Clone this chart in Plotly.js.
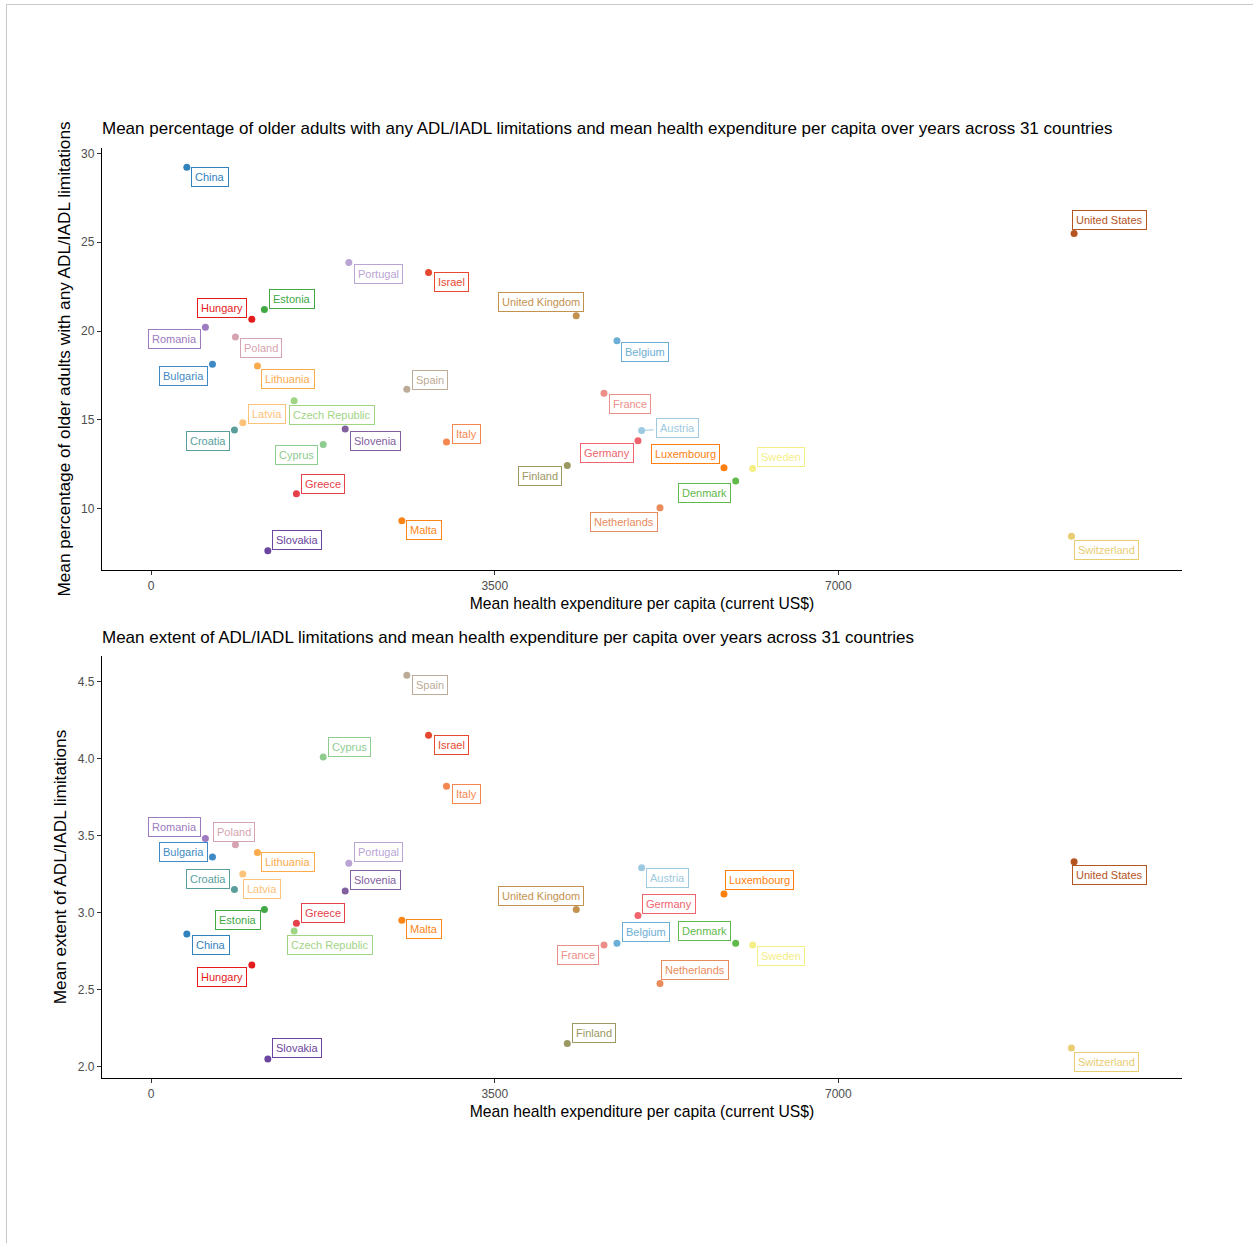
<!DOCTYPE html>
<html>
<head>
<meta charset="utf-8">
<script src="https://cdn.plot.ly/plotly-3.0.1.min.js"></script>
<style>
  html, body { margin: 0; padding: 0; background: #ffffff; }
  #chart { width: 1253px; height: 1243px; position: absolute; left: 0; top: 0; }
  #frame { position: absolute; left: 6px; top: 4px; width: 1247px; height: 1239px;
           border-left: 1px solid #c8c8c8; border-top: 1px solid #c8c8c8;
           box-sizing: border-box; pointer-events: none; }
</style>
</head>
<body>
<div id="chart"></div>
<div id="frame"></div>
<script>
// Country-level means over the survey years
const countries = [
  'Austria', 'Belgium', 'Bulgaria', 'China', 'Croatia', 'Cyprus', 'Czech Republic',
  'Denmark', 'Estonia', 'Finland', 'France', 'Germany', 'Greece', 'Hungary', 'Israel',
  'Italy', 'Latvia', 'Lithuania', 'Luxembourg', 'Malta', 'Netherlands', 'Poland',
  'Portugal', 'Romania', 'Slovakia', 'Slovenia', 'Spain', 'Sweden', 'Switzerland',
  'United Kingdom', 'United States'
];

// Mean health expenditure per capita (current US$)
const healthExpenditure = [
  4996, 4745, 625, 364, 849, 1753, 1457,
  5954, 1154, 4239, 4613, 4959, 1480, 1026, 2826,
  3009, 934, 1083, 5835, 2554, 5183, 859,
  2014, 553, 1189, 1977, 2605, 6127, 9374,
  4330, 9401
];

// Mean percentage of older adults with any ADL/IADL limitation
const pctAnyLimitation = [
  14.40, 19.46, 18.13, 29.23, 14.42, 13.61, 16.07,
  11.56, 21.22, 12.42, 16.50, 13.82, 10.83, 20.67, 23.30,
  13.75, 14.83, 18.03, 12.30, 9.31, 10.04, 19.66,
  23.86, 20.22, 7.62, 14.48, 16.72, 12.26, 8.44,
  20.86, 25.49
];

// Mean extent (number) of ADL/IADL limitations
const extentLimitation = [
  3.29, 2.80, 3.36, 2.86, 3.15, 4.01, 2.88,
  2.80, 3.02, 2.15, 2.79, 2.98, 2.93, 2.66, 4.15,
  3.82, 3.25, 3.39, 3.12, 2.95, 2.54, 3.44,
  3.32, 3.48, 2.05, 3.14, 4.54, 2.79, 2.12,
  3.02, 3.33
];

const xTicks = [0, 3500, 7000];
const yTicksTop = [10, 15, 20, 25, 30];
const yTicksBottom = [2.0, 2.5, 3.0, 3.5, 4.0, 4.5];

// One colour per country
const countryColors = [
  '#9ecae1', '#6baed6', '#3f8ac4', '#3182bd', '#5a9e9c', '#8fcc8f', '#9fd585',
  '#5fba4a', '#41a844', '#9c9862', '#eb8f88', '#f0646e', '#e6414a', '#e41a1c', '#e6492f',
  '#f4874f', '#fdc27a', '#fbab4c', '#ff7f0e', '#fb8517', '#e88c5c', '#d6a4b0',
  '#b9a4d4', '#9d7bc0', '#6b45a0', '#82609e', '#bcab96', '#f4ee86', '#e9cd72',
  '#c4924f', '#b4541f'
];

// Repelled label placement, pixel offsets of each label from its point
const labelShiftTop = [
  [36, -2], [28.5, 11.8], [-28.8, 11.7], [23.6, 9.6], [-26.6, 10.5], [-26.5, 10.6], [38, 13.8],
  [-31.1, 12.4], [27.2, -10.8], [-27, 10.7], [26, 10.4], [-31.4, 12.5], [27, -10.1], [-29.9, -11.5], [22.7, 9.4],
  [19.9, -7.6], [24, -9.2], [31, 12.7], [-38, -13.3], [22.6, 8.9], [-35.5, 14], [26, 10.5],
  [29.5, 11.7], [-30.5, 12.3], [29.1, -10.8], [29.8, 11.9], [23.6, -9], [28.7, -11.2], [35.2, 13.8],
  [-35.5, -13.9], [35.5, -13.3]
];
const labelShiftBottom = [
  [26, 10.2], [28.6, -11.2], [-28.8, -4.7], [23.8, 11.2], [-26.8, -10.1], [26.5, -10.2], [35.8, 13.7],
  [-31.1, -12], [-26.8, 10.7], [27.2, -10.7], [-26.2, 10.4], [31.3, -11.8], [27, -10.2], [-29.9, 11.7], [22.9, 9.2],
  [19.7, 7.9], [18.8, 14.5], [31, 10], [35.5, -13.9], [22.6, 9.2], [35.3, -13.7], [-1.3, -13.1],
  [29.6, -11.2], [-30.5, -11.8], [29.3, -11.3], [29.8, -11], [23.5, 9.5], [28.5, 11.3], [35.2, 13.7],
  [-35.5, -13.8], [35.5, 13.7]
];
// Labels pushed far enough from their point to get a connecting segment
const segmentTop = ['Austria'];
const segmentBottom = [];

const FONT = 'Liberation Sans, Arial, Helvetica, sans-serif';
const W = 1253, H = 1243;
const px = v => v / W;
const py = v => 1 - v / H;

function pointTrace(yValues, xa, ya) {
  return {
    type: 'scatter', mode: 'markers',
    x: healthExpenditure, y: yValues, text: countries,
    xaxis: xa, yaxis: ya,
    marker: { size: 7, color: countryColors, line: { width: 0 } },
    hovertemplate: '%{text}<br>%{x}<br>%{y}<extra></extra>',
    showlegend: false
  };
}

function labels(yValues, shifts, withSegment, xr, yr) {
  return countries.map((name, i) => ({
    xref: xr, yref: yr,
    x: healthExpenditure[i], y: yValues[i],
    text: name,
    showarrow: true,
    ax: shifts[i][0], ay: shifts[i][1],
    arrowhead: 0, arrowwidth: 1, standoff: 0, startstandoff: 3,
    arrowcolor: withSegment.includes(name) ? countryColors[i] : 'rgba(0,0,0,0)',
    font: { family: FONT, size: 11, color: countryColors[i] },
    bgcolor: '#ffffff',
    bordercolor: countryColors[i],
    borderwidth: 1,
    borderpad: 3
  }));
}

const xAxisBase = {
  range: [-500, 10500],
  tickvals: xTicks, ticktext: xTicks.map(String),
  showgrid: false, zeroline: false,
  showline: true, linecolor: '#000000', linewidth: 1.3,
  ticks: 'outside', ticklen: 4, tickwidth: 1, tickcolor: '#333333',
  tickfont: { family: FONT, size: 12, color: '#4d4d4d' },
  automargin: false,
  title: { text: 'Mean health expenditure per capita (current US$)',
           font: { family: FONT, size: 15.7, color: '#000000' }, standoff: 6 }
};

function yAxisBase(range, ticks, fmt, titleText) {
  return {
    range: range, tickvals: ticks, tickformat: fmt,
    showgrid: false, zeroline: false,
    showline: true, linecolor: '#000000', linewidth: 1.3,
    ticks: 'outside', ticklen: 4, tickwidth: 1, tickcolor: '#333333',
    tickfont: { family: FONT, size: 12, color: '#4d4d4d' },
    automargin: false,
    title: { text: titleText, font: { family: FONT, size: 17.2, color: '#000000' }, standoff: 6 }
  };
}

const xDomain = [px(102), px(1182)];

const layout = {
  width: W, height: H,
  margin: { l: 0, r: 0, t: 0, b: 0 },
  paper_bgcolor: '#ffffff', plot_bgcolor: '#ffffff',
  font: { family: FONT },
  showlegend: false,
  xaxis: Object.assign({}, xAxisBase, { domain: xDomain, anchor: 'y' }),
  yaxis: Object.assign(yAxisBase([6.54, 30.31], yTicksTop, 'd',
           'Mean percentage of older adults with any ADL/IADL limitations'),
           { domain: [py(570), py(148)], anchor: 'x' }),
  xaxis2: Object.assign({}, xAxisBase, { domain: xDomain, anchor: 'y2' }),
  yaxis2: Object.assign(yAxisBase([1.926, 4.665], yTicksBottom, '.1f',
           'Mean extent of ADL/IADL limitations'),
           { domain: [py(1078), py(656)], anchor: 'x2' }),
  annotations: [
    {
      xref: 'paper', yref: 'paper', x: px(100), y: py(129),
      xanchor: 'left', yanchor: 'middle', showarrow: false,
      text: 'Mean percentage of older adults with any ADL/IADL limitations and mean health expenditure per capita over years across 31 countries',
      font: { family: FONT, size: 17, color: '#000000' }
    },
    {
      xref: 'paper', yref: 'paper', x: px(100), y: py(637),
      xanchor: 'left', yanchor: 'middle', showarrow: false,
      text: 'Mean extent of ADL/IADL limitations and mean health expenditure per capita over years across 31 countries',
      font: { family: FONT, size: 17, color: '#000000' }
    }
  ].concat(
    labels(pctAnyLimitation, labelShiftTop, segmentTop, 'x', 'y'),
    labels(extentLimitation, labelShiftBottom, segmentBottom, 'x2', 'y2')
  )
};

Plotly.newPlot('chart',
  [pointTrace(pctAnyLimitation, 'x', 'y'), pointTrace(extentLimitation, 'x2', 'y2')],
  layout, { displayModeBar: false, responsive: false, staticPlot: false });
</script>
</body>
</html>
